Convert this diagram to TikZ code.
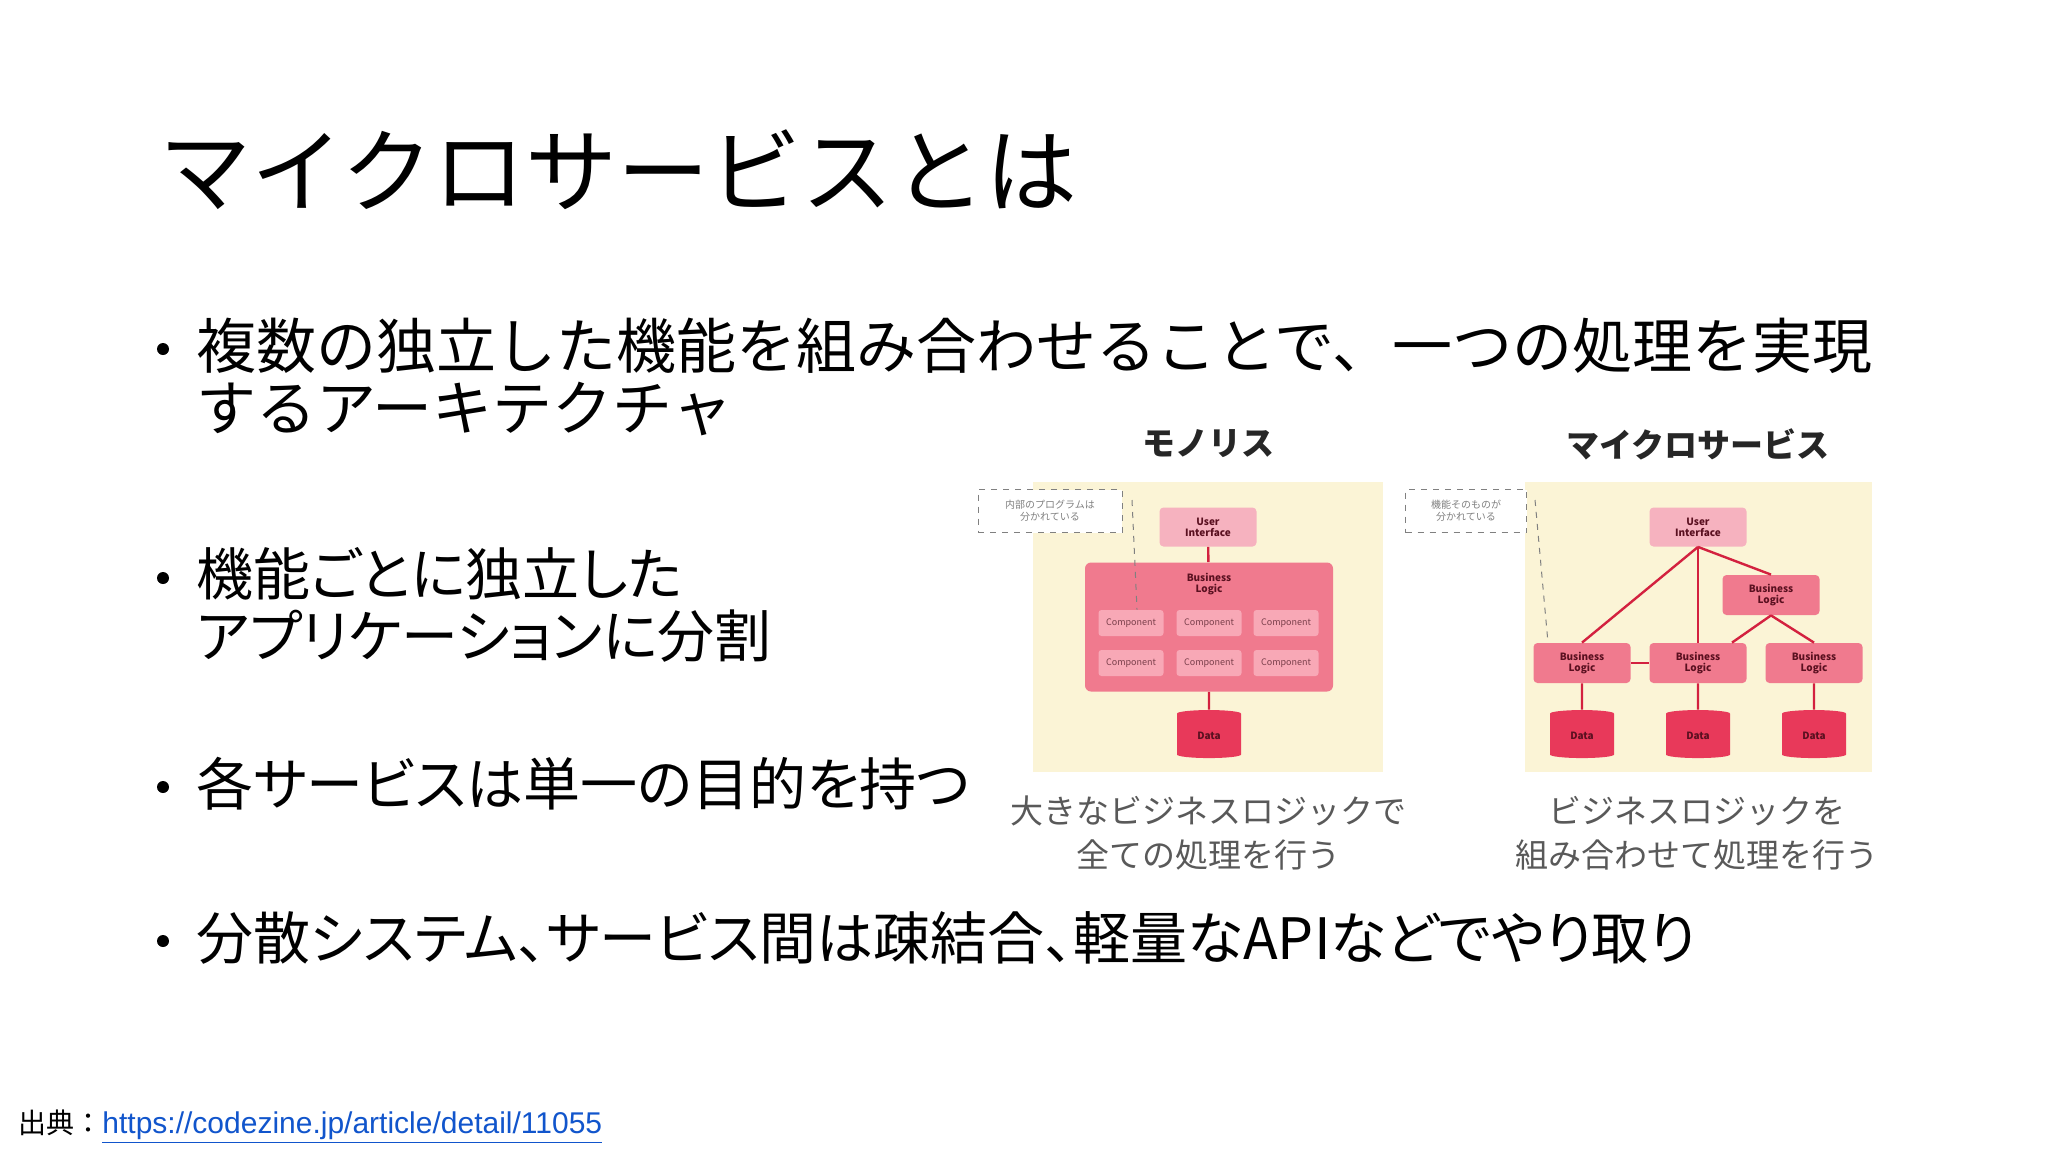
\documentclass[tikz,border=0pt]{standalone}
\usepackage{fontspec}
\setmainfont{Noto Sans CJK JP}
\newfontfamily\pj[RawFeature=+palt]{Noto Sans CJK JP}
\newfontfamily\lib{Liberation Sans}
\usetikzlibrary{shapes.geometric}
\definecolor{bgy}{HTML}{FBF4D6}
\definecolor{uip}{HTML}{F6B2BF}
\definecolor{blp}{HTML}{F07A8E}
\definecolor{cmp}{HTML}{F8A8B6}
\definecolor{dat}{HTML}{E8395A}
\definecolor{lnr}{HTML}{D3213F}
\definecolor{txr}{HTML}{5A1020}
\definecolor{lnk}{HTML}{1155CC}
\tikzset{
 ttl/.style={anchor=west,inner sep=0,font=\fontsize{46}{50}\selectfont},
 bul/.style={anchor=west,inner sep=0,font=\pj\fontsize{28.5}{31}\selectfont,align=left},
 bula/.style={anchor=west,inner sep=0,font=\fontsize{30}{31}\selectfont,align=left},
 dot/.style={circle,fill=black,inner sep=0,minimum size=6pt},
 ui/.style={draw=none,fill=uip,rounded corners=2pt,minimum width=48.5pt,minimum height=19.5pt,font=\fontsize{5}{5.5}\selectfont\bfseries,text=txr,align=center,inner sep=0},
 bl/.style={fill=blp,rounded corners=2pt,minimum width=48.5pt,minimum height=20pt,font=\fontsize{5}{5.5}\selectfont\bfseries,text=txr,align=center,inner sep=0},
 cmpb/.style={fill=cmp,rounded corners=1.5pt,minimum width=32.5pt,minimum height=13pt,font=\fontsize{4.5}{5}\selectfont,text=txr!80,inner sep=0},
 db/.style={cylinder,shape border rotate=90,aspect=0.3,fill=dat,minimum width=32pt,minimum height=24pt,font=\fontsize{5}{5}\selectfont\bfseries,text=txr,inner sep=0},
 note/.style={draw=gray,dashed,fill=white,minimum width=72pt,minimum height=21.5pt,font=\fontsize{5}{6}\selectfont,text=gray,align=center,inner sep=0},
 wire/.style={lnr,line width=1.2pt},
 lead/.style={gray,dashed,line width=0.5pt},
 captxt/.style={font=\fontsize{16.5}{22}\selectfont,text=black!65,align=center},
 hd/.style={font=\fontsize{16.5}{18}\selectfont\bfseries,text=black!85}
}
\begin{document}
\begin{tikzpicture}[x=0.5pt,y=-0.5pt]
\useasboundingbox[fill=white] (0,0) rectangle (2048,1152);
\node[ttl] (title) at (159,170) {マイクロサービスとは};
\node[dot] (d1) at (163,349) {};
\node[bula,anchor=north west] (b1) at (196,318) {複数の独立した機能を組み合わせることで、一つの処理を実現\\するアーキテクチャ};
\node[dot] (d2) at (163,578) {};
\node[bul,anchor=north west] (b2) at (196,547) {機能ごとに独立した\\アプリケーションに分割};
\node[dot] (d3) at (163,787) {};
\node[bul] (b3) at (196,784) {各サービスは単一の目的を持つ};
\node[dot] (d4) at (163,941) {};
\node[bul] (b4) at (196,938) {分散システム、サービス間は疎結合、軽量なAPIなどでやり取り};
\node[anchor=west,inner sep=0,font=\fontsize{14}{15}\selectfont] (src) at (18,1127) {出典：\textcolor{lnk}{\lib\fontsize{15}{16}\selectfont\underline{https://codezine.jp/article/detail/11055}}};
% headings
\node[hd] (h1) at (1208,444) {モノリス};
\node[hd] (h2) at (1698,444) {マイクロサービス};
% left panel
\fill[bgy] (1033,482) rectangle (1383,772);
\node[note] (n1) at (1050,511) {内部のプログラムは\\分かれている};
\node[ui] (ui1) at (1208,527) {User\\Interface};
\node[fill=blp,rounded corners=3pt,minimum width=124pt,minimum height=64.5pt,inner sep=0] (big) at (1209,627) {};
\node[font=\fontsize{5}{5.5}\selectfont\bfseries,text=txr,align=center,inner sep=0] (bll) at (1209,584) {Business\\Logic};
\node[cmpb] (c11) at (1131,623) {Component};
\node[cmpb] (c12) at (1209,623) {Component};
\node[cmpb] (c13) at (1286,623) {Component};
\node[cmpb] (c21) at (1131,663) {Component};
\node[cmpb] (c22) at (1209,663) {Component};
\node[cmpb] (c23) at (1286,663) {Component};
\node[db] (db1) at (1209,736) {Data};
\draw[wire] (ui1) -- (big);
\draw[wire] (big) -- (db1);
\coordinate (l1) at (1132,500);
\draw[lead] (l1) -- (c11.north east -| 1137,0);
% right panel
\fill[bgy] (1525,482) rectangle (1872,772);
\node[note,minimum width=60.5pt] (n2) at (1466,511) {機能そのものが\\分かれている};
\node[ui] (ui2) at (1698,527) {User\\Interface};
\node[bl] (bt) at (1771,595) {Business\\Logic};
\node[bl] (bl1) at (1582,663) {Business\\Logic};
\node[bl] (bl2) at (1698,663) {Business\\Logic};
\node[bl] (bl3) at (1814,663) {Business\\Logic};
\node[db] (d21) at (1582,736) {Data};
\node[db] (d22) at (1698,736) {Data};
\node[db] (d23) at (1814,736) {Data};
\draw[wire] (ui2.south) -- (bl1.north);
\draw[wire] (ui2.south) -- (bl2.north);
\draw[wire] (ui2.south) -- (bt.north);
\draw[wire] (bt.south) -- (bl2.north east -| 1732,0);
\draw[wire] (bt.south) -- (bl3.north);
\draw[wire] (bl1) -- (bl2);
\draw[wire] (bl1) -- (d21);
\draw[wire] (bl2) -- (d22);
\draw[wire] (bl3) -- (d23);
\coordinate (l2) at (1535,500);
\draw[lead] (l2) -- (1548,643);
\node[captxt] (cp1) at (1208,833) {大きなビジネスロジックで\\全ての処理を行う};
\node[captxt] (cp2) at (1697,833) {ビジネスロジックを\\組み合わせて処理を行う};
\end{tikzpicture}
\end{document}
